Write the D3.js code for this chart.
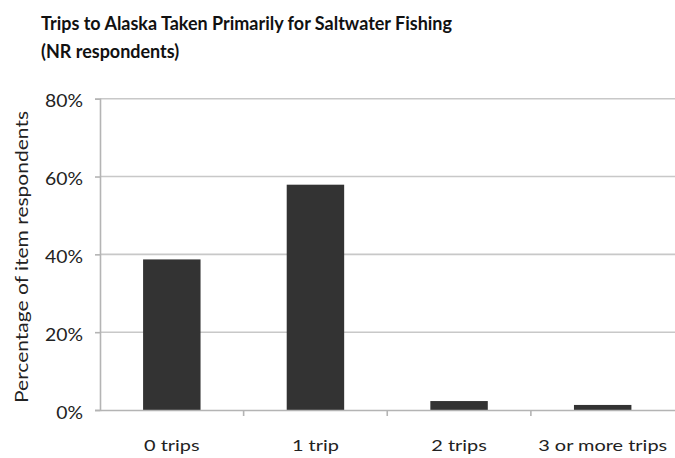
<!DOCTYPE html>
<html><head><meta charset="utf-8">
<script src="https://cdn.jsdelivr.net/npm/d3@7"></script>
<style>body{margin:0;background:#fff}svg{display:block}</style>
</head><body>
<svg id="c" width="675" height="458"></svg>
<script>
const categories = ["0 trips", "1 trip", "2 trips", "3 or more trips"];
const values = [38.7, 57.9, 2.3, 1.3];
const yTicks = [0, 20, 40, 60, 80];
const titleLines = ["Trips to Alaska Taken Primarily for Saltwater Fishing", "(NR respondents)"];
const yTitle = "Percentage of item respondents";

const FONT = "Lato, 'Open Sans', sans-serif";
const svg = d3.select("#c");
const m = {left: 100, right: 0.5, top: 98.7, bottom: 410};
const x = d3.scaleBand().domain(categories).range([m.left, 675 - m.right]).paddingInner(0.6).paddingOuter(0.3);
const xb = d3.scaleBand().domain(categories).range([m.left, 675 - m.right]);
const y = d3.scaleLinear().domain([0, 80]).range([m.bottom, m.top]);

// horizontal squeeze factor so a sample string at a given size reaches a target width (Calibri-like narrowness)
function squeeze(sample, size, target, weight) {
  const t = svg.append("text").attr("font-family", FONT).attr("font-size", size)
    .attr("font-weight", weight || "normal").text(sample);
  const w = t.node().getComputedTextLength();
  t.remove();
  return target / w;
}
function condense(sel, f) {
  sel.each(function () {
    const w = this.getComputedTextLength();
    d3.select(this).attr("textLength", w * f).attr("lengthAdjust", "spacingAndGlyphs");
  });
}
const catSize = 16, ySize = 17, yTitleSize = 17.5, titleSize = 19.5;
const catF = squeeze("3 or more trips", catSize, 129);
const yF = squeeze("80%", ySize, 38);
const yTitleF = squeeze(yTitle, yTitleSize, 292);
const titleF = squeeze(titleLines[0], titleSize, 411, "bold");

// gridlines
svg.append("g").selectAll("line").data(yTicks.filter(d => d > 0)).join("line")
  .attr("x1", m.left).attr("x2", 675).attr("y1", d => y(d)).attr("y2", d => y(d))
  .attr("stroke", "#c8c8c8").attr("stroke-width", 1.6);

// bars
svg.append("g").selectAll("rect").data(values).join("rect")
  .attr("x", (d, i) => x(categories[i])).attr("width", x.bandwidth())
  .attr("y", d => y(d)).attr("height", d => y(0) - y(d))
  .attr("fill", "#333333");

// y axis
const ya = svg.append("g").attr("transform", `translate(${m.left},0)`)
  .call(d3.axisLeft(y).tickValues(yTicks).tickFormat(d => d + "%").tickSize(5).tickPadding(12));
ya.select(".domain").attr("stroke", "#b4b4b4").attr("stroke-width", 1.6);
ya.selectAll(".tick line").attr("stroke", "#b4b4b4").attr("stroke-width", 1.6);
ya.selectAll(".tick text").attr("font-size", ySize).attr("fill", "#222").attr("font-family", FONT)
  .attr("dy", 8).call(condense, yF);

// x axis
const xa = svg.append("g").attr("transform", `translate(0,${m.bottom})`)
  .call(d3.axisBottom(xb).tickSize(0).tickSizeOuter(0));
xa.select(".domain").attr("stroke", "#b4b4b4").attr("stroke-width", 1.6);
xa.selectAll(".tick text").attr("font-size", catSize).attr("fill", "#222").attr("font-family", FONT)
  .attr("dy", null).attr("y", 41).call(condense, catF);
// category boundary ticks
svg.append("g").selectAll("line").data(categories.slice(1)).join("line")
  .attr("x1", d => xb(d)).attr("x2", d => xb(d)).attr("y1", m.bottom).attr("y2", m.bottom + 6)
  .attr("stroke", "#b4b4b4").attr("stroke-width", 1.6);

// titles
svg.append("g").selectAll("text").data(titleLines).join("text")
  .attr("x", 41).attr("y", (d, i) => 30 + i * 27.5)
  .attr("font-family", FONT).attr("font-size", titleSize).attr("font-weight", "bold").attr("fill", "#111")
  .text(d => d).call(condense, titleF);

svg.append("text").attr("transform", `translate(28.3,257) rotate(-90)`)
  .attr("text-anchor", "middle").attr("font-family", FONT).attr("font-size", yTitleSize).attr("fill", "#222")
  .text(yTitle).call(condense, yTitleF);
</script>
</body></html>
